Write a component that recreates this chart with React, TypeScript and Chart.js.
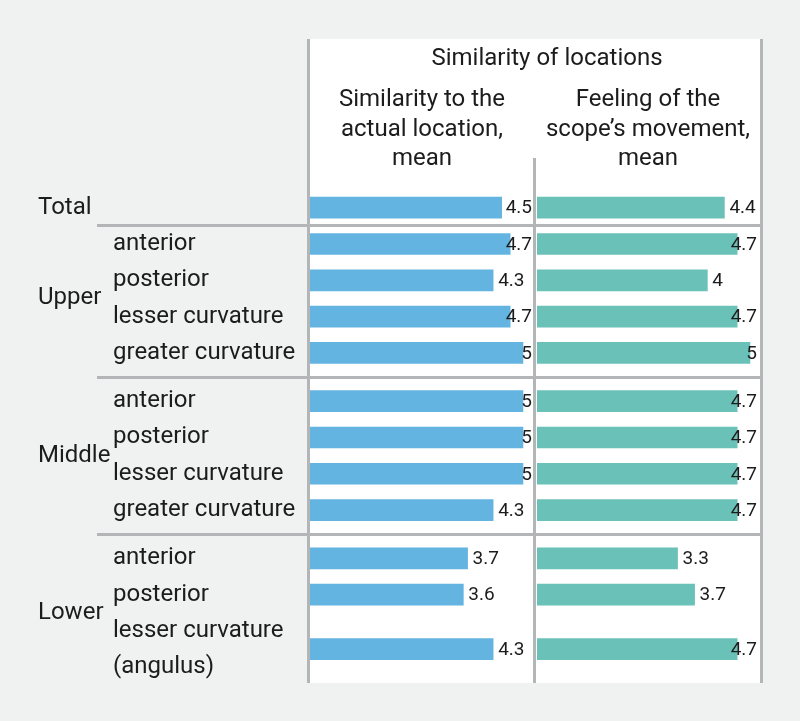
import React, { useEffect, useRef } from "react";
import { Chart, registerables } from "chart.js";

Chart.register(...registerables);

// ---- data ----
const groupNames = ["Total", "Upper", "Middle", "Lower"];
const rowGroup = [0, 1, 1, 1, 1, 2, 2, 2, 2, 3, 3, 3];
const rowLabels: string[][] = [
  [],
  ["anterior"],
  ["posterior"],
  ["lesser curvature"],
  ["greater curvature"],
  ["anterior"],
  ["posterior"],
  ["lesser curvature"],
  ["greater curvature"],
  ["anterior"],
  ["posterior"],
  ["lesser curvature", "(angulus)"],
];
const similarityMeans = [4.5, 4.7, 4.3, 4.7, 5, 5, 5, 5, 4.3, 3.7, 3.6, 4.3];
const feelingMeans = [4.4, 4.7, 4, 4.7, 5, 4.7, 4.7, 4.7, 4.7, 3.3, 3.7, 4.7];
const headerTitle = "Similarity of locations";
const seriesTitles = [
  ["Similarity to the", "actual location,", "mean"],
  ["Feeling of the", "scope\u2019s movement,", "mean"],
];

// ---- style ----
const BLUE = "#63b4e1";
const TEAL = "#6ac1b7";
const BG = "#f0f1f1";
const LINE = "#b3b5b7";
const TEXT = "#1c1c1c";
const FONT = "Roboto, 'Noto Sans', sans-serif";
const GROUP_GAP = 0.33;

function computeLayout() {
  const bar: number[] = [];
  const lines: number[][] = [];
  let line = 0;
  for (let i = 0; i < rowGroup.length; i++) {
    if (i > 0 && rowGroup[i] !== rowGroup[i - 1] && rowGroup[i - 1] !== 0) line += GROUP_GAP;
    const n = Math.max(1, rowLabels[i].length);
    const ls: number[] = [];
    for (let k = 0; k < n; k++) ls.push(line + k);
    lines.push(ls);
    bar.push(line + (n - 1) / 2);
    line += n;
  }
  return { bar, lines };
}

export default function App() {
  const ref = useRef<HTMLCanvasElement>(null);
  useEffect(() => {
    const canvas = ref.current!;
    const L = computeLayout();

    const decor = {
      id: "decor",
      beforeDraw(chart: any) {
        const ctx = chart.ctx as CanvasRenderingContext2D;
        const y = chart.scales.y;
        ctx.save();
        ctx.fillStyle = BG;
        ctx.fillRect(0, 0, chart.width, chart.height);
        // white panel
        const panelTop = 39, panelBottom = 683;
        ctx.fillStyle = "#ffffff";
        ctx.fillRect(310, panelTop, 450, panelBottom - panelTop);
        ctx.fillStyle = LINE;
        ctx.fillRect(307, panelTop, 3, panelBottom - panelTop);
        ctx.fillRect(760, panelTop, 3, panelBottom - panelTop);
        ctx.fillRect(533, 158, 3, panelBottom - 158);
        // separators between groups
        for (let i = 1; i < rowGroup.length; i++) {
          if (rowGroup[i] !== rowGroup[i - 1]) {
            const prev = L.lines[i - 1][L.lines[i - 1].length - 1];
            const next = L.lines[i][0];
            const py = y.getPixelForValue((prev + next) / 2);
            ctx.fillRect(97, Math.round(py - 1.5), 666, 3);
          }
        }
        // header
        ctx.fillStyle = TEXT;
        ctx.font = `24px ${FONT}`;
        ctx.textBaseline = "middle";
        ctx.textAlign = "center";
        ctx.fillText(headerTitle, 547, 59);
        const centers = [422, 648];
        seriesTitles.forEach((t, s) => {
          t.forEach((ln, k) => ctx.fillText(ln, centers[s], 100 + k * 29.5));
        });
        // row labels
        ctx.textAlign = "left";
        rowLabels.forEach((ls, i) => {
          ls.forEach((txt, k) => ctx.fillText(txt, 113, y.getPixelForValue(L.lines[i][k])));
        });
        // group labels
        groupNames.forEach((g, gi) => {
          const ls: number[] = [];
          rowGroup.forEach((rg, i) => {
            if (rg === gi) ls.push(...L.lines[i]);
          });
          const mid = ls.reduce((a, b) => a + b, 0) / ls.length;
          ctx.fillText(g, 38, y.getPixelForValue(mid));
        });
        ctx.restore();
      },
      afterDatasetsDraw(chart: any) {
        const ctx = chart.ctx as CanvasRenderingContext2D;
        const y = chart.scales.y;
        const limits = [532, 757];
        const sets = [
          { vals: similarityMeans, scale: chart.scales.xSim },
          { vals: feelingMeans, scale: chart.scales.xFeel },
        ];
        ctx.save();
        ctx.fillStyle = TEXT;
        ctx.font = `19px ${FONT}`;
        ctx.textBaseline = "middle";
        ctx.textAlign = "left";
        sets.forEach((s, si) => {
          s.vals.forEach((v, i) => {
            const txt = String(v);
            const w = ctx.measureText(txt).width;
            const end = s.scale.getPixelForValue(v);
            const x = Math.min(end + 5, limits[si] - w);
            ctx.fillText(txt, x, y.getPixelForValue(L.bar[i]) + 1);
          });
        });
        ctx.restore();
      },
    };

    const chart = new Chart(canvas, {
      type: "bar",
      data: {
        datasets: [
          {
            label: seriesTitles[0].join(" "),
            data: similarityMeans.map((v, i) => ({ x: v, y: L.bar[i] })),
            xAxisID: "xSim",
            yAxisID: "y",
            backgroundColor: BLUE,
            barThickness: 21,
            grouped: false,
          } as any,
          {
            label: seriesTitles[1].join(" "),
            data: feelingMeans.map((v, i) => ({ x: v, y: L.bar[i] })),
            xAxisID: "xFeel",
            yAxisID: "y",
            backgroundColor: TEAL,
            barThickness: 21,
            grouped: false,
          } as any,
        ],
      },
      options: {
        indexAxis: "y",
        animation: false,
        responsive: false,
        maintainAspectRatio: false,
        layout: { autoPadding: false, padding: { left: 310, right: 36, top: 171.4, bottom: 41.4 } },
        plugins: { legend: { display: false }, tooltip: { enabled: false } },
        scales: {
          y: { type: "linear", reverse: true, min: -1, max: 13, offset: false, grace: 0, display: false },
          xSim: { type: "linear", axis: "x", position: "bottom", stack: "panels", stackWeight: 1, min: 0, max: 5.33, offset: false, display: false },
          xFeel: { type: "linear", axis: "x", position: "bottom", stack: "panels", stackWeight: 1, min: 0, max: 5.33, offset: false, display: false },
        } as any,
      },
      plugins: [decor],
    });
    return () => chart.destroy();
  }, []);

  return (
    <div style={{ position: "absolute", left: 0, top: 0, width: 800, height: 721 }}>
      <canvas ref={ref} width={800} height={721} style={{ display: "block" }} />
    </div>
  );
}
